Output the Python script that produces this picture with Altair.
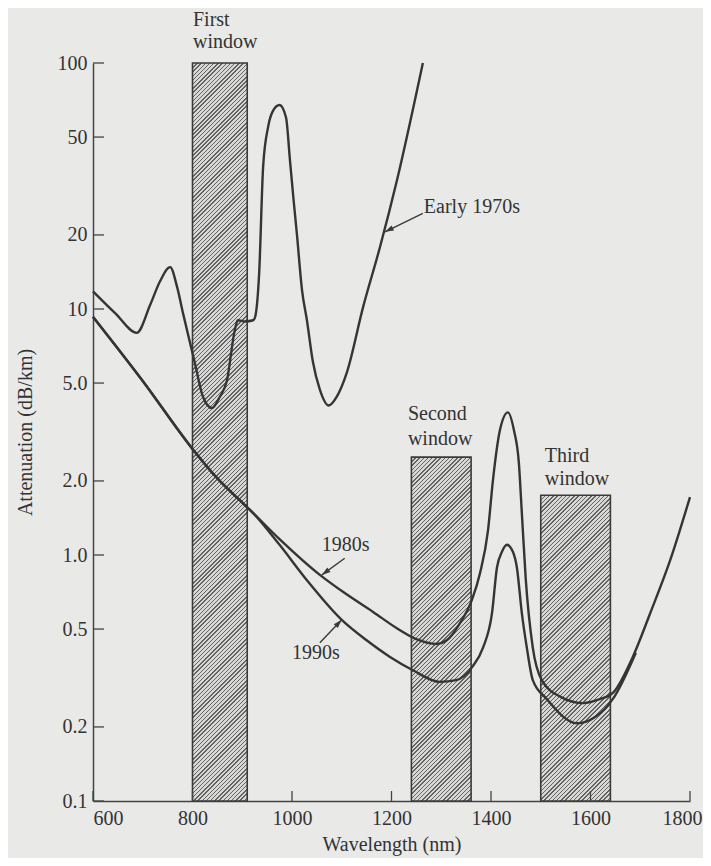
import math
import altair as alt
import pandas as pd

# ---------------- data ----------------
x_ticks = [600, 800, 1000, 1200, 1400, 1600, 1800]
y_ticks = [0.1, 0.2, 0.5, 1, 2, 5, 10, 20, 50, 100]

wl_1970 = [600, 645, 688, 715, 735, 755, 769, 781, 805, 821, 839, 855, 869, 885, 891, 906, 922,
           926, 934, 942, 952, 962, 975, 988, 996, 1003, 1010, 1020, 1030, 1042, 1056,
           1074, 1090, 1110, 1143, 1177, 1211, 1263]
att_1970 = [11.8, 9.6, 8.0, 10.4, 13.0, 14.8, 12.3, 9.6, 6.0, 4.4, 3.96, 4.4, 5.1, 8.2, 9.0, 8.9, 9.0,
            9.3, 14, 38, 55, 64, 67.5, 60, 40, 28, 20, 12, 9, 6.1, 4.7,
            4.05, 4.4, 5.5, 10.2, 17.9, 33.4, 100]

wl_1980 = [600, 700, 800, 850, 895, 922, 975, 1056, 1106, 1163, 1210, 1250, 1290, 1311, 1338,
           1362, 1378, 1394, 1404, 1418, 1434, 1446, 1456, 1462, 1470, 1484, 1502, 1540,
           1585, 1620, 1645, 1685, 1720, 1760, 1800]
att_1980 = [9.3, 5.1, 2.7, 2.05, 1.67, 1.48, 1.16, 0.83, 0.70, 0.587, 0.505, 0.455, 0.435, 0.45, 0.53,
            0.66, 0.845, 1.26, 2.02, 3.22, 3.8, 3.22, 2.37, 1.48, 0.79, 0.42, 0.31, 0.265,
            0.25, 0.26, 0.275, 0.385, 0.58, 0.95, 1.72]

wl_1990 = [600, 700, 800, 850, 895, 922, 975, 1030, 1100, 1150, 1197, 1243, 1297, 1330,
           1362, 1384, 1402, 1412, 1422, 1432, 1444, 1452, 1462, 1472, 1484, 1512, 1573,
           1610, 1645, 1691]
att_1990 = [9.3, 5.1, 2.7, 2.05, 1.67, 1.48, 1.10, 0.79, 0.545, 0.45, 0.385, 0.34, 0.305, 0.31,
            0.35, 0.42, 0.58, 0.89, 1.03, 1.1, 1.03, 0.89, 0.58, 0.42, 0.31, 0.26, 0.207,
            0.22, 0.26, 0.40]

win_names = ["First", "Second", "Third"]
win_start = [800, 1240, 1500]
win_end = [910, 1360, 1640]
win_top = [100, 2.5, 1.75]

# annotation texts (position in data units)
note_text = ["First", "window", "Second", "window", "Third", "window", "Early 1970s"]
note_x = [801, 801, 1233, 1233, 1508, 1508, 1265]
note_y = [149.6, 121.7, 3.74, 2.96, 2.53, 2.04, 26.0]

era_text = ["1980s", "1990s"]
era_x = [1108, 1048]
era_y = [1.10, 0.40]

arrow_tail_x = [1263, 1106, 1056]
arrow_tail_y = [24.5, 0.97, 0.44]
arrow_head_x = [1187, 1060, 1100]
arrow_head_y = [20.6, 0.83, 0.545]

# ---------------- layout / style ----------------
W, H = 597, 738
FONT = "Liberation Serif"
INK = "#333333"
BG = "#e9e9e7"
FS = 20

xscale = alt.Scale(domain=[600, 1800], nice=False, zero=False)
yscale = alt.Scale(type="log", domain=[0.1, 100], nice=False)


def px(nm):
    return (nm - 600) / 1200 * W


def py(v):
    return (2 - math.log10(v)) / 3 * H


# ---------------- curves ----------------
curves = pd.concat([
    pd.DataFrame({"wl": wl_1970, "att": att_1970, "era": "Early 1970s"}),
    pd.DataFrame({"wl": wl_1980, "att": att_1980, "era": "1980s"}),
    pd.DataFrame({"wl": wl_1990, "att": att_1990, "era": "1990s"}),
])

lines = alt.Chart(curves).mark_line(
    interpolate="monotone", color="#353535", strokeWidth=2.4
).encode(
    x=alt.X("wl:Q", scale=xscale,
            axis=alt.Axis(values=x_ticks, format="d", title="Wavelength (nm)", grid=False,
                          ticks=False, tickSize=0, labelFlush=False,
                          labelAlign={"condition": [
                              {"test": "datum.value == 600", "value": "left"},
                              {"test": "datum.value == 1800", "value": "right"}],
                              "value": "center"},
                          labelOffset={"condition": {"test": "datum.value == 1800", "value": 12},
                                       "value": 0},
                          labelFont=FONT, labelFontSize=FS, labelColor=INK, labelPadding=7,
                          titleFont=FONT, titleFontSize=FS, titleFontWeight="normal",
                          titleColor=INK, titlePadding=6,
                          domainColor="#444444", domainWidth=1.5)),
    y=alt.Y("att:Q", scale=yscale,
            axis=alt.Axis(values=y_ticks, title="Attenuation (dB/km)", grid=False,
                          ticks=False, tickSize=0,
                          labelExpr="datum.value >= 10 ? format(datum.value, 'd') : format(datum.value, '.1f')",
                          labelFont=FONT, labelFontSize=FS, labelColor=INK, labelPadding=6,
                          titleFont=FONT, titleFontSize=FS, titleFontWeight="normal",
                          titleColor=INK, titlePadding=22,
                          domainColor="#444444", domainWidth=1.5)),
    detail="era:N",
)

# ---------------- hatched windows ----------------
layers = []
for i in range(3):
    w_px = px(win_end[i]) - px(win_start[i])
    h_px = py(0.1) - py(win_top[i])
    r = w_px / h_px
    c = (r + 1) / (r * r + 1)
    n = int(round((w_px + h_px) / 4.2))
    stops = []
    for k in range(n):
        stops += [
            alt.GradientStop(offset=k / n, color="#636363"),
            alt.GradientStop(offset=(k + 0.34) / n, color="#636363"),
            alt.GradientStop(offset=(k + 0.34) / n, color="#d8d8d6"),
            alt.GradientStop(offset=(k + 1) / n, color="#d8d8d6"),
        ]
    grad = alt.LinearGradient(gradient="linear", stops=stops, x1=0, y1=0, x2=c * r, y2=c)
    wdf = pd.DataFrame({"x0": [win_start[i]], "x1": [win_end[i]],
                        "y0": [0.1], "y1": [win_top[i]]})
    layers.append(
        alt.Chart(wdf).mark_rect(fill=grad, stroke="#3a3a3a", strokeWidth=1.6).encode(
            x=alt.X("x0:Q", scale=xscale), x2="x1:Q",
            y=alt.Y("y0:Q", scale=yscale), y2="y1:Q")
    )

# ---------------- inner ticks ----------------
ytick_df = pd.DataFrame({"v": y_ticks})
yticks = alt.Chart(ytick_df).mark_rule(color="#444444", strokeWidth=1.3).encode(
    y=alt.Y("v:Q", scale=yscale), x=alt.value(0), x2=alt.value(11))
xtick_df = pd.DataFrame({"v": x_ticks})
xticks = alt.Chart(xtick_df).mark_rule(color="#444444", strokeWidth=1.3).encode(
    x=alt.X("v:Q", scale=xscale), y=alt.value(H), y2=alt.value(H - 10))

# ---------------- annotations ----------------
notes = alt.Chart(pd.DataFrame({"t": note_text, "x": note_x, "y": note_y})).mark_text(
    align="left", baseline="middle", font=FONT, fontSize=FS, color=INK
).encode(x=alt.X("x:Q", scale=xscale), y=alt.Y("y:Q", scale=yscale), text="t:N")

eras = alt.Chart(pd.DataFrame({"t": era_text, "x": era_x, "y": era_y})).mark_text(
    align="center", baseline="middle", font=FONT, fontSize=FS, color=INK
).encode(x=alt.X("x:Q", scale=xscale), y=alt.Y("y:Q", scale=yscale), text="t:N")

angles = []
for i in range(3):
    dx = px(arrow_head_x[i]) - px(arrow_tail_x[i])
    dy = py(arrow_head_y[i]) - py(arrow_tail_y[i])
    angles.append((math.degrees(math.atan2(dx, -dy)) + 360) % 360)

arr_df = pd.DataFrame({"tx": arrow_tail_x, "ty": arrow_tail_y,
                       "hx": arrow_head_x, "hy": arrow_head_y, "ang": angles})
shafts = alt.Chart(arr_df).mark_rule(color="#3a3a3a", strokeWidth=1.4).encode(
    x=alt.X("tx:Q", scale=xscale), y=alt.Y("ty:Q", scale=yscale),
    x2="hx:Q", y2="hy:Q")
heads = alt.Chart(arr_df).mark_point(
    shape="M0,0L0.32,1L-0.32,1Z", filled=True, size=300, color="#3a3a3a", opacity=1
).encode(
    x=alt.X("hx:Q", scale=xscale), y=alt.Y("hy:Q", scale=yscale),
    angle=alt.Angle("ang:Q", scale=None))

chart = alt.layer(*layers, xticks, yticks, lines, shafts, heads, notes, eras).properties(
    width=W, height=H,
    background=BG,
    padding={"left": 85, "top": 55, "right": 13, "bottom": 57},
    autosize=alt.AutoSizeParams(type="none"),
).configure_view(stroke=None)

chart.save("out.html", embed_options={"renderer": "svg", "actions": False})
